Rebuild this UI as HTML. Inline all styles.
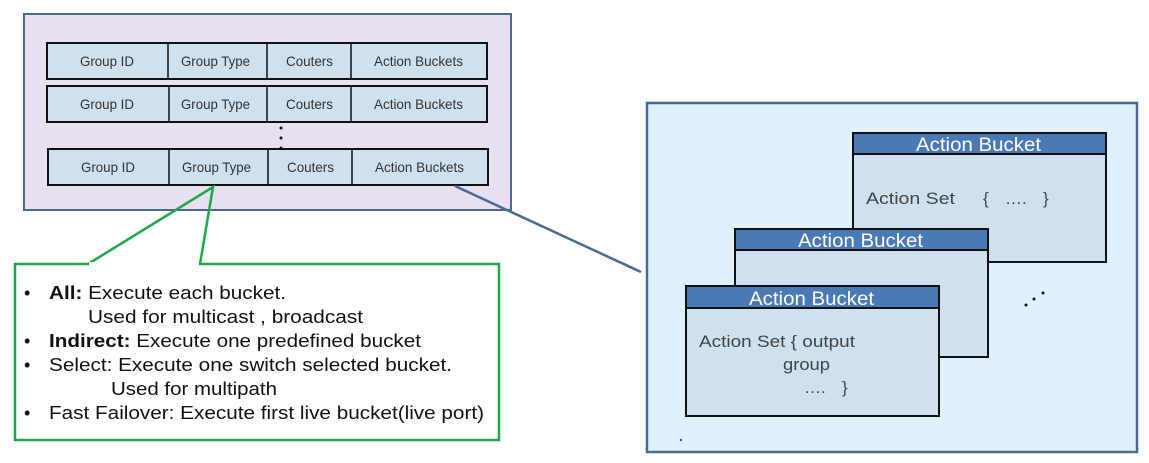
<!DOCTYPE html>
<html><head><meta charset="utf-8"><style>
html,body{margin:0;padding:0;background:#fff;}
svg{display:block;font-family:"Liberation Sans",Arial,sans-serif;}
</style></head><body>
<svg width="1149" height="463" viewBox="0 0 1149 463" xmlns="http://www.w3.org/2000/svg">
<rect x="24" y="14" width="487" height="196" fill="#e8e0ee" stroke="#4a6a94" stroke-width="2"/>
<g stroke="#111" stroke-width="2" fill="#cfe0ef">
<rect x="47" y="43" width="440" height="36"/>
<rect x="47" y="86" width="440" height="36"/>
<rect x="48" y="149" width="440" height="36"/>
</g>
<g stroke="#111" stroke-width="1.5">
<line x1="168" y1="43" x2="168" y2="79"/><line x1="267" y1="43" x2="267" y2="79"/><line x1="351" y1="43" x2="351" y2="79"/>
<line x1="169" y1="86" x2="169" y2="122"/><line x1="267" y1="86" x2="267" y2="122"/><line x1="351" y1="86" x2="351" y2="122"/>
<line x1="169" y1="149" x2="169" y2="185"/><line x1="268" y1="149" x2="268" y2="185"/><line x1="352" y1="149" x2="352" y2="185"/>
</g>
<g font-size="14" fill="#333">
<text x="80" y="66" textLength="54" lengthAdjust="spacingAndGlyphs">Group ID</text><text x="181" y="66" textLength="69" lengthAdjust="spacingAndGlyphs">Group Type</text><text x="286" y="66" textLength="47" lengthAdjust="spacingAndGlyphs">Couters</text><text x="374" y="66" textLength="89" lengthAdjust="spacingAndGlyphs">Action Buckets</text>
<text x="80" y="109" textLength="54" lengthAdjust="spacingAndGlyphs">Group ID</text><text x="181" y="109" textLength="69" lengthAdjust="spacingAndGlyphs">Group Type</text><text x="286" y="109" textLength="47" lengthAdjust="spacingAndGlyphs">Couters</text><text x="374" y="109" textLength="89" lengthAdjust="spacingAndGlyphs">Action Buckets</text>
<text x="81" y="172" textLength="54" lengthAdjust="spacingAndGlyphs">Group ID</text><text x="182" y="172" textLength="69" lengthAdjust="spacingAndGlyphs">Group Type</text><text x="287" y="172" textLength="47" lengthAdjust="spacingAndGlyphs">Couters</text><text x="375" y="172" textLength="89" lengthAdjust="spacingAndGlyphs">Action Buckets</text>
</g>
<g fill="#111"><circle cx="281" cy="128" r="1.5"/><circle cx="281" cy="138" r="1.5"/><circle cx="281" cy="148" r="1.5"/></g>
<line x1="455" y1="186" x2="641" y2="272" stroke="#4a6a94" stroke-width="2.5"/>
<polyline points="88,264 213,187 200,264" fill="none" stroke="#1ea84a" stroke-width="2.5"/>
<rect x="15" y="264" width="484" height="176" fill="#fff" stroke="#1ea84a" stroke-width="2.5"/>
<line x1="89" y1="264" x2="199" y2="264" stroke="#fff" stroke-width="4"/>
<g font-size="18" fill="#111">
<text x="24" y="299">•</text><text x="49" y="299" textLength="237" lengthAdjust="spacingAndGlyphs"><tspan font-weight="bold">All:</tspan> Execute each bucket.</text>
<text x="88" y="323" textLength="275" lengthAdjust="spacingAndGlyphs">Used for multicast , broadcast</text>
<text x="24" y="347">•</text><text x="49" y="347" textLength="372" lengthAdjust="spacingAndGlyphs"><tspan font-weight="bold">Indirect:</tspan> Execute one predefined bucket</text>
<text x="24" y="371">•</text><text x="49" y="371" textLength="403" lengthAdjust="spacingAndGlyphs">Select: Execute one switch selected bucket.</text>
<text x="111" y="395" textLength="166" lengthAdjust="spacingAndGlyphs">Used for multipath</text>
<text x="24" y="419">•</text><text x="49" y="419" textLength="435" lengthAdjust="spacingAndGlyphs">Fast Failover: Execute first live bucket(live port)</text>
</g>
<rect x="647" y="103" width="490" height="349" fill="#dff2fc" stroke="#4a6a94" stroke-width="2.5"/>
<g stroke="#111" stroke-width="2">
<rect x="853" y="133" width="253" height="129" fill="#cfe0ef"/><rect x="853" y="133" width="253" height="21" fill="#4a7ab6"/>
<rect x="735" y="229" width="253" height="128" fill="#cfe0ef"/><rect x="735" y="229" width="253" height="21" fill="#4a7ab6"/>
<rect x="686" y="286" width="253" height="130" fill="#cfe0ef"/><rect x="686" y="286" width="253" height="22" fill="#4a7ab6"/>
</g>
<g font-size="19" fill="#fff">
<text x="916" y="151" textLength="125" lengthAdjust="spacingAndGlyphs">Action Bucket</text><text x="798" y="247" textLength="125" lengthAdjust="spacingAndGlyphs">Action Bucket</text><text x="749" y="305" textLength="125" lengthAdjust="spacingAndGlyphs">Action Bucket</text>
</g>
<g font-size="17" fill="#444">
<text x="866" y="204" textLength="89" lengthAdjust="spacingAndGlyphs">Action Set</text><text x="983" y="204">{</text><text x="1005" y="204">….</text><text x="1043" y="204">}</text>
<text x="699" y="347" textLength="156" lengthAdjust="spacingAndGlyphs">Action Set { output</text>
<text x="783" y="370" textLength="47" lengthAdjust="spacingAndGlyphs">group</text>
<text x="804" y="393">….</text><text x="842" y="393">}</text>
</g>
<g fill="#111"><circle cx="1026" cy="305" r="1.5"/><circle cx="1034" cy="299" r="1.5"/><circle cx="1043" cy="293" r="1.5"/></g>
<circle cx="681" cy="440" r="1" fill="#00f"/>
</svg>
</body></html>
